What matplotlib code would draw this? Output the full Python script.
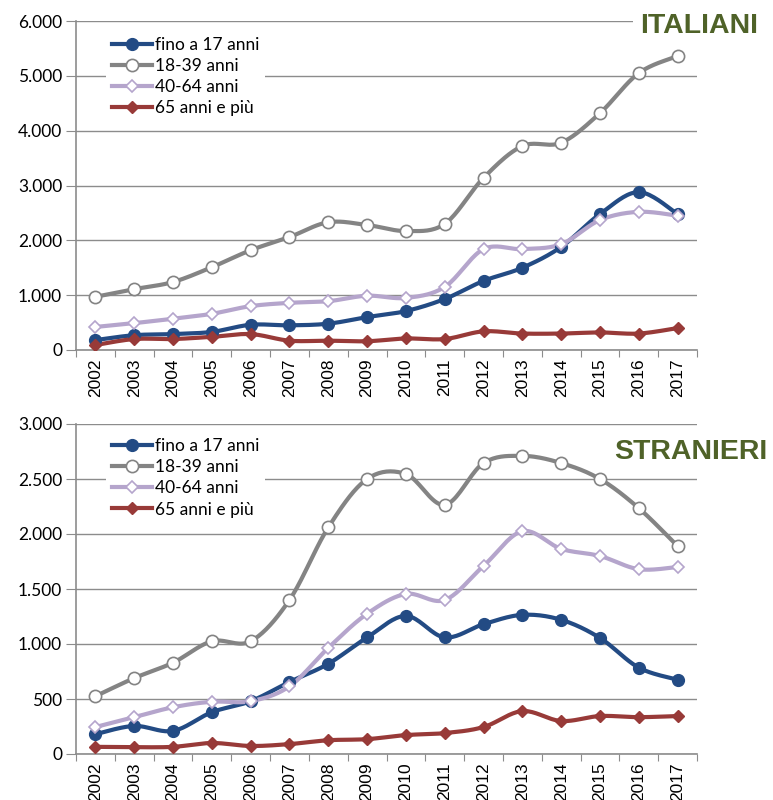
import numpy as np
import matplotlib
matplotlib.use('Agg')
import matplotlib.pyplot as plt

anni = [str(a) for a in range(2002, 2018)]
serie = ['fino a 17 anni', '18-39 anni', '40-64 anni', '65 anni e più']

# ITALIANI
it_0_17 = [180, 270, 290, 330, 460, 450, 480, 600, 710, 930, 1260, 1500, 1880, 2480, 2880, 2480]
it_18_39 = [970, 1110, 1240, 1510, 1820, 2060, 2330, 2280, 2170, 2300, 3140, 3720, 3780, 4320, 5050, 5360]
it_40_64 = [420, 490, 570, 660, 800, 860, 890, 990, 950, 1150, 1840, 1840, 1930, 2370, 2520, 2450]
it_65 = [90, 200, 200, 240, 290, 170, 170, 160, 210, 200, 340, 300, 300, 320, 300, 400]

# STRANIERI
st_0_17 = [180, 255, 210, 380, 480, 655, 820, 1060, 1255, 1060, 1180, 1265, 1220, 1055, 785, 675]
st_18_39 = [525, 690, 830, 1025, 1025, 1400, 2060, 2500, 2545, 2265, 2645, 2710, 2645, 2500, 2235, 1890]
st_40_64 = [245, 335, 425, 475, 480, 615, 965, 1275, 1455, 1400, 1710, 2025, 1865, 1800, 1680, 1700]
st_65 = [65, 62, 65, 100, 73, 90, 125, 135, 172, 190, 245, 390, 300, 345, 335, 345]

colori = ['#234B84', '#848484', '#B5A5CC', '#983A38']
stili = [
    dict(marker='o', markersize=8.5, markerfacecolor='#234B84', markeredgecolor='#234B84'),
    dict(marker='o', markersize=8.8, markerfacecolor='white', markeredgecolor='#848484', markeredgewidth=1.2),
    dict(marker='D', markersize=6.5, markerfacecolor='white', markeredgecolor='#B5A5CC', markeredgewidth=1.2),
    dict(marker='D', markersize=6, markerfacecolor='#983A38', markeredgecolor='#983A38'),
]
grigio = '#8C8C8C'
verde = '#4F6228'


def smooth(x, y, n=20):
    # curva tipo Excel (Catmull-Rom) tra i punti
    x = np.asarray(x, float)
    y = np.asarray(y, float)
    px = np.concatenate([[x[0]], x, [x[-1]]])
    py = np.concatenate([[y[0]], y, [y[-1]]])
    xs, ys = [], []
    t = np.linspace(0, 1, n, endpoint=False)
    for i in range(1, len(px) - 2):
        p0, p1, p2, p3 = py[i - 1], py[i], py[i + 1], py[i + 2]
        q0, q1, q2, q3 = px[i - 1], px[i], px[i + 1], px[i + 2]
        for a, b, c, d, out in ((q0, q1, q2, q3, xs), (p0, p1, p2, p3, ys)):
            out.extend(0.5 * ((2 * b) + (-a + c) * t + (2 * a - 5 * b + 4 * c - d) * t ** 2
                              + (-a + 3 * b - 3 * c + d) * t ** 3))
    xs.append(x[-1])
    ys.append(y[-1])
    return xs, ys


def pannello(ax, dati, ymax, passo, titolo, tpos, legpos):
    x = np.arange(len(anni))
    handles = []
    for vals, col, st, nome in zip(dati, colori, stili, serie):
        sx, sy = smooth(x, vals)
        ax.plot(sx, sy, color=col, lw=3, solid_capstyle='round', zorder=3)
        ax.plot(x, vals, ls='none', zorder=4, **st)
        h, = ax.plot([], [], color=col, lw=3, **st)
        h.set_label(nome)
        handles.append(h)
    ax.set_xlim(-0.5, len(anni) - 0.5)
    ax.set_ylim(0, ymax)
    ax.set_yticks(np.arange(0, ymax + 1, passo))
    ax.set_yticklabels([f'{int(v):,}'.replace(',', '.') for v in np.arange(0, ymax + 1, passo)],
                       fontsize=12.5, family='Lato')
    ax.set_xticks(np.arange(-0.5, len(anni), 1.0))
    ax.set_xticklabels([])
    ax.set_xticks(x, minor=True)
    ax.set_xticklabels(anni, minor=True, rotation=90, fontsize=12.5, family='Liberation Sans')
    ax.tick_params(axis='x', which='major', length=5, color=grigio)
    ax.tick_params(axis='x', which='minor', length=0, pad=6)
    ax.tick_params(axis='y', length=7, color=grigio, pad=3)
    for s in ['top', 'right']:
        ax.spines[s].set_visible(False)
    for s in ['left', 'bottom']:
        ax.spines[s].set_color(grigio)
        ax.spines[s].set_linewidth(1.2)
    ax.grid(axis='y', color=grigio, lw=1)
    ax.set_axisbelow(True)
    leg = ax.legend(handles=handles, loc='upper left', bbox_to_anchor=legpos, frameon=True,
                    fancybox=False, edgecolor='none', framealpha=1, handlelength=2.3,
                    handletextpad=0.2, labelspacing=0.3, borderpad=0.3, numpoints=1,
                    prop={'family': 'Lato', 'size': 12.5})
    leg.set_zorder(5)
    ax.text(tpos[0], tpos[1], titolo, transform=ax.transAxes, ha='center', va='center',
            fontsize=20.5, fontweight='bold', color=verde, family='Liberation Sans',
            clip_on=False, zorder=6,
            bbox=dict(facecolor='white', edgecolor='none', pad=5))


fig = plt.figure(figsize=(7.73, 8.0), dpi=100)
ax1 = fig.add_axes([0.0983, 0.5625, 0.8034, 0.41125])
ax2 = fig.add_axes([0.0983, 0.0575, 0.8034, 0.4125])

pannello(ax1, [it_0_17, it_18_39, it_40_64, it_65], 6000, 1000, 'ITALIANI', (1.003, 0.985), (0.035, 0.994))
pannello(ax2, [st_0_17, st_18_39, st_40_64, st_65], 3000, 500, 'STRANIERI', (0.99, 0.915), (0.035, 1.0))

fig.savefig('out.png', dpi=100)
